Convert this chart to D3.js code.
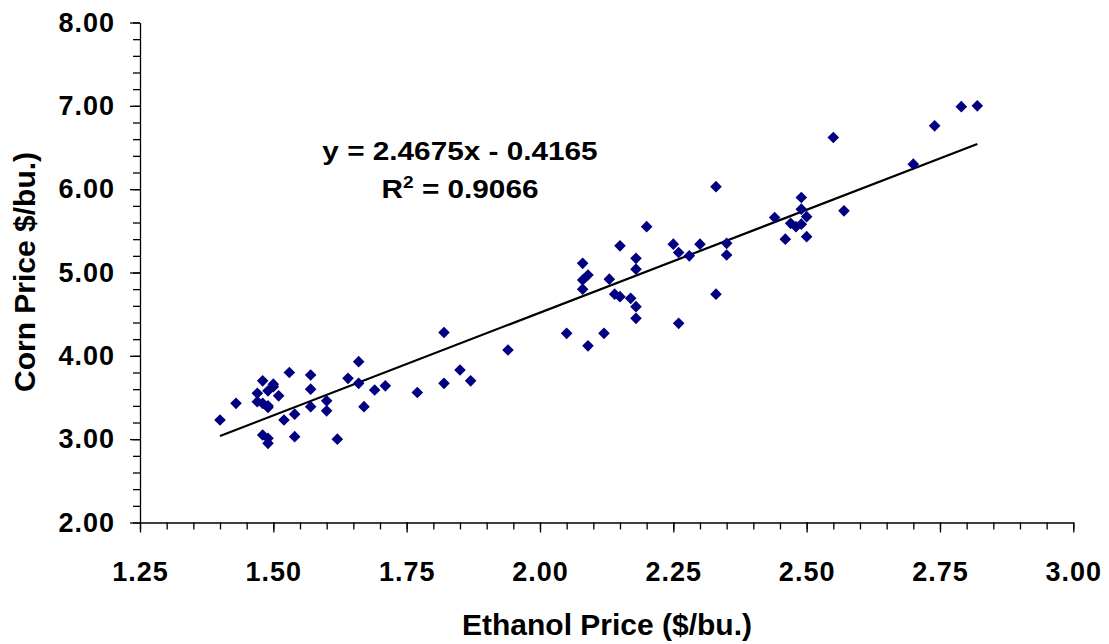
<!DOCTYPE html>
<html>
<head>
<meta charset="utf-8">
<script src="https://cdn.jsdelivr.net/npm/d3@7"></script>
<style>
  body { margin: 0; background: #ffffff; }
  text { font-family: "Liberation Sans", Arial, sans-serif; font-weight: bold; fill: #000; }
</style>
</head>
<body>
<div id="chart"></div>
<script>
// ethanol price ($/bu.) vs corn price ($/bu.)
const ethanolPrice = [
  1.40, 1.43, 1.47, 1.47, 1.48, 1.48, 1.49, 1.49, 1.50, 1.50,
  1.49, 1.51, 1.53, 1.52, 1.54, 1.48, 1.49, 1.49, 1.54, 1.57,
  1.57, 1.57, 1.60, 1.60, 1.62, 1.64, 1.66, 1.66, 1.67, 1.69,
  1.71, 1.77, 1.82, 1.82, 1.85, 1.87, 1.94,
  2.05, 2.09, 2.12, 2.08, 2.09, 2.08, 2.08, 2.13, 2.14, 2.15,
  2.17, 2.18, 2.18, 2.18, 2.18, 2.15, 2.20, 2.25, 2.26, 2.28,
  2.26, 2.30, 2.33, 2.33, 2.35, 2.35,
  2.44, 2.47, 2.48, 2.49, 2.46, 2.49, 2.49, 2.50, 2.50, 2.55,
  2.57, 2.70, 2.74, 2.79, 2.82
];
const cornPrice = [
  3.23, 3.43, 3.55, 3.45, 3.70, 3.43, 3.40, 3.38, 3.66, 3.63,
  3.58, 3.52, 3.80, 3.23, 3.30, 3.05, 3.01, 2.95, 3.03, 3.77,
  3.60, 3.39, 3.46, 3.34, 3.00, 3.73, 3.93, 3.67, 3.39, 3.59,
  3.64, 3.56, 4.28, 3.67, 3.83, 3.70, 4.07,
  4.27, 4.12, 4.27, 5.11, 4.97, 4.91, 4.80, 4.92, 4.74, 4.71,
  4.69, 4.59, 4.45, 5.17, 5.04, 5.32, 5.55, 5.34, 5.24, 5.20,
  4.39, 5.34, 6.03, 4.74, 5.35, 5.21,
  5.66, 5.59, 5.55, 5.58, 5.40, 5.90, 5.76, 5.67, 5.43, 6.62,
  5.74, 6.30, 6.76, 6.99, 7.00
];

const xMajorTicks = [1.25, 1.50, 1.75, 2.00, 2.25, 2.50, 2.75, 3.00];
const yMajorTicks = [2, 3, 4, 5, 6, 7, 8];
const xMinorTicks = d3.range(125, 301, 5).map((d) => d / 100);
const yMinorTicks = d3.range(10, 41, 1).map((d) => d / 5);

const slope = 2.4675;
const intercept = -0.4165;
const equationText = "y = 2.4675x - 0.4165";
const rSquaredText = "0.9066";

const margin = { top: 22.5, right: 35.7, bottom: 121.5, left: 140 };
const width = 1109 - margin.left - margin.right;
const height = 644 - margin.top - margin.bottom;

const svg = d3
  .select("#chart")
  .append("svg")
  .attr("width", 1109)
  .attr("height", 644);

const g = svg
  .append("g")
  .attr("transform", "translate(" + margin.left + "," + margin.top + ")");

const xScale = d3.scaleLinear().domain([1.25, 3.0]).range([0, width]);
const yScale = d3.scaleLinear().domain([2, 8]).range([height, 0]);

// minor ticks
g.append("g")
  .attr("class", "x-minor")
  .attr("transform", "translate(0," + height + ")")
  .call(d3.axisBottom(xScale).tickValues(xMinorTicks).tickSize(7).tickFormat(""))
  .call((s) => s.select(".domain").remove());

g.append("g")
  .attr("class", "y-minor")
  .call(d3.axisLeft(yScale).tickValues(yMinorTicks).tickSize(7).tickFormat(""))
  .call((s) => s.select(".domain").remove());

// major axes
const xAxis = d3
  .axisBottom(xScale)
  .tickValues(xMajorTicks)
  .tickSize(10)
  .tickSizeOuter(0)
  .tickPadding(29)
  .tickFormat(d3.format(".2f"));

g.append("g")
  .attr("class", "x-axis")
  .attr("transform", "translate(0," + height + ")")
  .call(xAxis);

const yAxis = d3
  .axisLeft(yScale)
  .tickValues(yMajorTicks)
  .tickSize(10)
  .tickSizeOuter(0)
  .tickPadding(15)
  .tickFormat(d3.format(".2f"));

g.append("g").attr("class", "y-axis").call(yAxis);

g.selectAll(".x-axis text, .y-axis text")
  .style("font-size", "27px")
  .style("letter-spacing", "1px")
  .attr("font-family", null);

g.selectAll(".domain, .tick line")
  .attr("stroke", "#000")
  .attr("stroke-width", 1.3);

// trend line
const xExtent = d3.extent(ethanolPrice);
g.append("line")
  .attr("x1", xScale(xExtent[0]))
  .attr("y1", yScale(slope * xExtent[0] + intercept))
  .attr("x2", xScale(xExtent[1]))
  .attr("y2", yScale(slope * xExtent[1] + intercept))
  .attr("stroke", "#000")
  .attr("stroke-width", 2.2);

// points
const pts = ethanolPrice.map((x, i) => ({ x: x, y: cornPrice[i] }));
const r = 5.8;
g.selectAll(".point")
  .data(pts)
  .enter()
  .append("path")
  .attr("class", "point")
  .attr("d", "M0," + -r + "L" + r + ",0L0," + r + "L" + -r + ",0Z")
  .attr("transform", (d) => "translate(" + xScale(d.x) + "," + yScale(d.y) + ")")
  .attr("fill", "#000080");

// equation label
const eq = svg.append("g").attr("transform", "translate(460,0) scale(1.19,1)");
eq.append("text")
  .attr("x", 0)
  .attr("y", 160)
  .attr("text-anchor", "middle")
  .style("font-size", "25px")
  .text(equationText);

const r2 = eq
  .append("text")
  .attr("x", 0)
  .attr("y", 198)
  .attr("text-anchor", "middle")
  .style("font-size", "25px");
r2.append("tspan").text("R");
r2.append("tspan").attr("dy", -10).style("font-size", "16px").text("2");
r2.append("tspan").attr("dy", 10).text(" = " + rSquaredText);

// axis titles
svg.append("text")
  .attr("x", 607)
  .attr("y", 635)
  .attr("text-anchor", "middle")
  .style("font-size", "30px")
  .text("Ethanol Price ($/bu.)");

svg.append("text")
  .attr("transform", "translate(35,272) rotate(-90)")
  .attr("text-anchor", "middle")
  .style("font-size", "30px")
  .text("Corn Price $/bu.)");
</script>
</body>
</html>
